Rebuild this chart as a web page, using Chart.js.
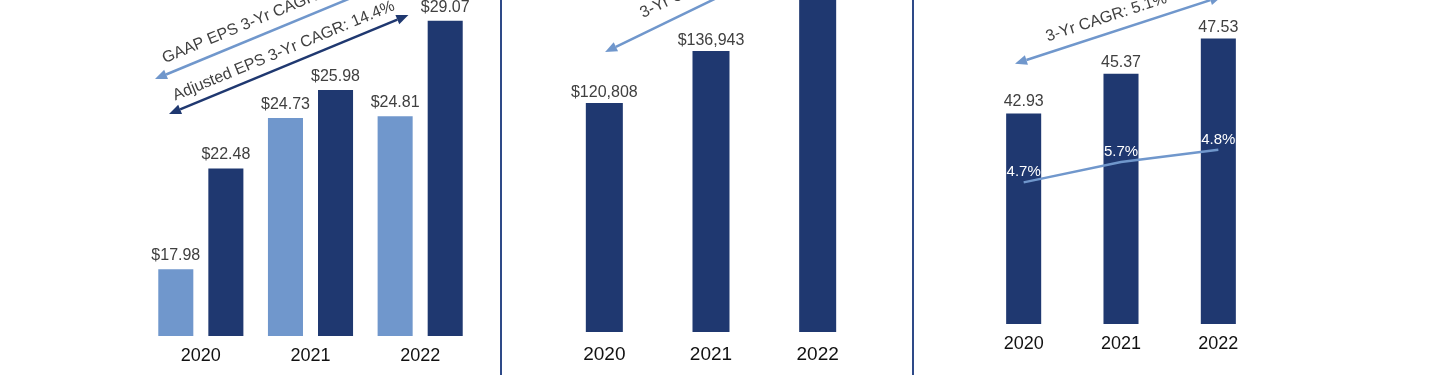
<!DOCTYPE html>
<html>
<head>
<meta charset="utf-8">
<script src="https://cdn.jsdelivr.net/npm/chart.js@4.4.1/dist/chart.umd.min.js"></script>
<style>
    body { margin: 0; background: #fff; width: 1440px; height: 375px; overflow: hidden; position: relative; }
    .panel { position: absolute; top: 0; height: 375px; }
    .divider { position: absolute; top: 0; width: 2px; height: 375px; background: #2e4a88; }
</style>
</head>
<body>
<div class="panel" style="left:146px; width:329px;"><canvas id="epsChart"></canvas></div>
<div class="divider" style="left:500px;"></div>
<div class="panel" style="left:551px; width:320px;"><canvas id="revenueChart"></canvas></div>
<div class="divider" style="left:912px;"></div>
<div class="panel" style="left:975px; width:292px;"><canvas id="membershipChart"></canvas></div>

<script>
// data
const years = ['2020', '2021', '2022'];
const gaapEps = [17.98, 24.73, 24.81];
const adjustedEps = [22.48, 25.98, 29.07];
const revenue = [120808, 136943, 155660];
const membership = [42.93, 45.37, 47.53];
const membershipGrowth = [4.7, 5.7, 4.8];
const growthTrend = [38.7, 39.95, 40.7];   // where the growth line sits on the bar axis

const NAVY = '#1f3870';
const LIGHT = '#7097cc';
const FONT = '"Liberation Sans", Arial, sans-serif';

// text above bars and white % labels on the line
const valueLabels = {
    id: 'valueLabels',
    afterDatasetsDraw(chart, args, opts) {
        const ctx = chart.ctx;
        ctx.save();
        chart.data.datasets.forEach((ds, i) => {
            const meta = chart.getDatasetMeta(i);
            const fmt = ds.labelFormat;
            if (!fmt) return;
            ctx.font = (ds.labelSize || 16) + 'px ' + FONT;
            ctx.fillStyle = ds.labelColor || '#404040';
            ctx.textAlign = 'center';
            ctx.textBaseline = 'alphabetic';
            meta.data.forEach((el, j) => {
                ctx.fillText(fmt(j), el.x, el.y - (ds.labelOffset || 8));
            });
        });
        ctx.restore();
    }
};

// CAGR arrows, given in scale units so they follow the axes
const arrows = {
    id: 'arrows',
    afterDraw(chart, args, opts) {
        const ctx = chart.ctx;
        const xs = chart.scales.x, ys = chart.scales.y;
        (opts.items || []).forEach(a => {
            const x1 = xs.getPixelForValue(a.from[0]), y1 = ys.getPixelForValue(a.from[1]);
            const x2 = xs.getPixelForValue(a.to[0]), y2 = ys.getPixelForValue(a.to[1]);
            const len = Math.hypot(x2 - x1, y2 - y1);
            const ux = (x2 - x1) / len, uy = (y2 - y1) / len;
            const head = 12, half = 5;
            ctx.save();
            ctx.strokeStyle = a.color;
            ctx.fillStyle = a.color;
            ctx.lineWidth = 2.5;
            ctx.beginPath();
            ctx.moveTo(x1 + ux * head, y1 + uy * head);
            ctx.lineTo(x2 - ux * head, y2 - uy * head);
            ctx.stroke();
            [[x1, y1, 1], [x2, y2, -1]].forEach(([px, py, s]) => {
                const bx = px + ux * head * s, by = py + uy * head * s;
                ctx.beginPath();
                ctx.moveTo(px, py);
                ctx.lineTo(bx - uy * half, by + ux * half);
                ctx.lineTo(bx + uy * half, by - ux * half);
                ctx.closePath();
                ctx.fill();
            });
            // label along the arrow
            const tx = x1 + ux * a.textAt + uy * a.textOffset;
            const ty = y1 + uy * a.textAt - ux * a.textOffset;
            ctx.translate(tx, ty);
            ctx.rotate(Math.atan2(uy, ux));
            ctx.font = '16px ' + FONT;
            ctx.fillStyle = '#404040';
            ctx.textAlign = 'left';
            ctx.textBaseline = 'alphabetic';
            ctx.fillText(a.text, 0, 0);
            ctx.restore();
        });
    }
};

function xAxis(size, pad, height) {
    return {
        grid: { display: false, drawTicks: false },
        border: { display: false },
        ticks: { color: '#111', font: { size: size, family: FONT }, padding: pad },
        afterFit(scale) { scale.height = height; }
    };
}

const baseOptions = {
    responsive: true,
    maintainAspectRatio: false,
    animation: false,
    layout: { padding: 0 },
    events: []
};

const money2 = v => '$' + v.toFixed(2);

new Chart(document.getElementById('epsChart'), {
    type: 'bar',
    data: {
        labels: years,
        datasets: [
            {
                label: 'GAAP EPS', data: gaapEps, backgroundColor: LIGHT,
                barPercentage: 0.7, categoryPercentage: 0.913,
                labelFormat: j => money2(gaapEps[j]), labelOffset: 9
            },
            {
                label: 'Adjusted EPS', data: adjustedEps, backgroundColor: NAVY,
                barPercentage: 0.7, categoryPercentage: 0.913,
                labelFormat: j => money2(adjustedEps[j]), labelOffset: 9
            }
        ]
    },
    options: {
        ...baseOptions,
        scales: {
            x: xAxis(18, 9, 39),
            y: { display: false, min: 15, max: 30 }
        },
        plugins: {
            legend: { display: false },
            tooltip: { enabled: false },
            arrows: {
                items: [
                    { from: [-0.418, 26.47], to: [1.764, 30.89], color: LIGHT,
                      text: 'GAAP EPS 3-Yr CAGR:', textAt: 15, textOffset: 11 },
                    { from: [-0.29, 24.91], to: [1.893, 29.33], color: NAVY,
                      text: 'Adjusted EPS 3-Yr CAGR: 14.4%', textAt: 11, textOffset: 10 }
                ]
            }
        }
    },
    plugins: [valueLabels, arrows]
});

new Chart(document.getElementById('revenueChart'), {
    type: 'bar',
    data: {
        labels: years,
        datasets: [{
            label: 'Operating Revenue', data: revenue, backgroundColor: NAVY,
            barPercentage: 0.347, categoryPercentage: 1,
            labelFormat: j => '$' + revenue[j].toLocaleString('en-US'), labelOffset: 6
        }]
    },
    options: {
        ...baseOptions,
        scales: {
            x: xAxis(19, 11.5, 43),
            y: { display: false, min: 50000, max: 152700 }
        },
        plugins: {
            legend: { display: false },
            tooltip: { enabled: false },
            arrows: {
                items: [
                    { from: [0.007, 136607], to: [2.02, 168774], color: LIGHT,
                      text: '3-Yr CAGR:', textAt: 49, textOffset: 14 }
                ]
            }
        }
    },
    plugins: [valueLabels, arrows]
});

new Chart(document.getElementById('membershipChart'), {
    type: 'bar',
    data: {
        labels: years,
        datasets: [
            {
                type: 'line', label: 'Growth', data: growthTrend,
                borderColor: LIGHT, borderWidth: 2.5, pointRadius: 0, tension: 0,
                labelFormat: j => membershipGrowth[j].toFixed(1) + '%',
                labelColor: '#ffffff', labelSize: 15, labelOffset: 6
            },
            {
                label: 'Medical Membership', data: membership, backgroundColor: NAVY,
                barPercentage: 0.36, categoryPercentage: 1,
                labelFormat: j => membership[j].toFixed(2), labelOffset: 7
            }
        ]
    },
    options: {
        ...baseOptions,
        scales: {
            x: xAxis(18, 9.2, 51),
            y: { display: false, min: 30, max: 49.9 }
        },
        plugins: {
            legend: { display: false },
            tooltip: { enabled: false },
            arrows: {
                items: [
                    { from: [-0.089, 45.99], to: [2.036, 50.12], color: LIGHT,
                      text: '3-Yr CAGR: 5.1%', textAt: 38, textOffset: 11 }
                ]
            }
        }
    },
    plugins: [valueLabels, arrows]
});
</script>
</body>
</html>
